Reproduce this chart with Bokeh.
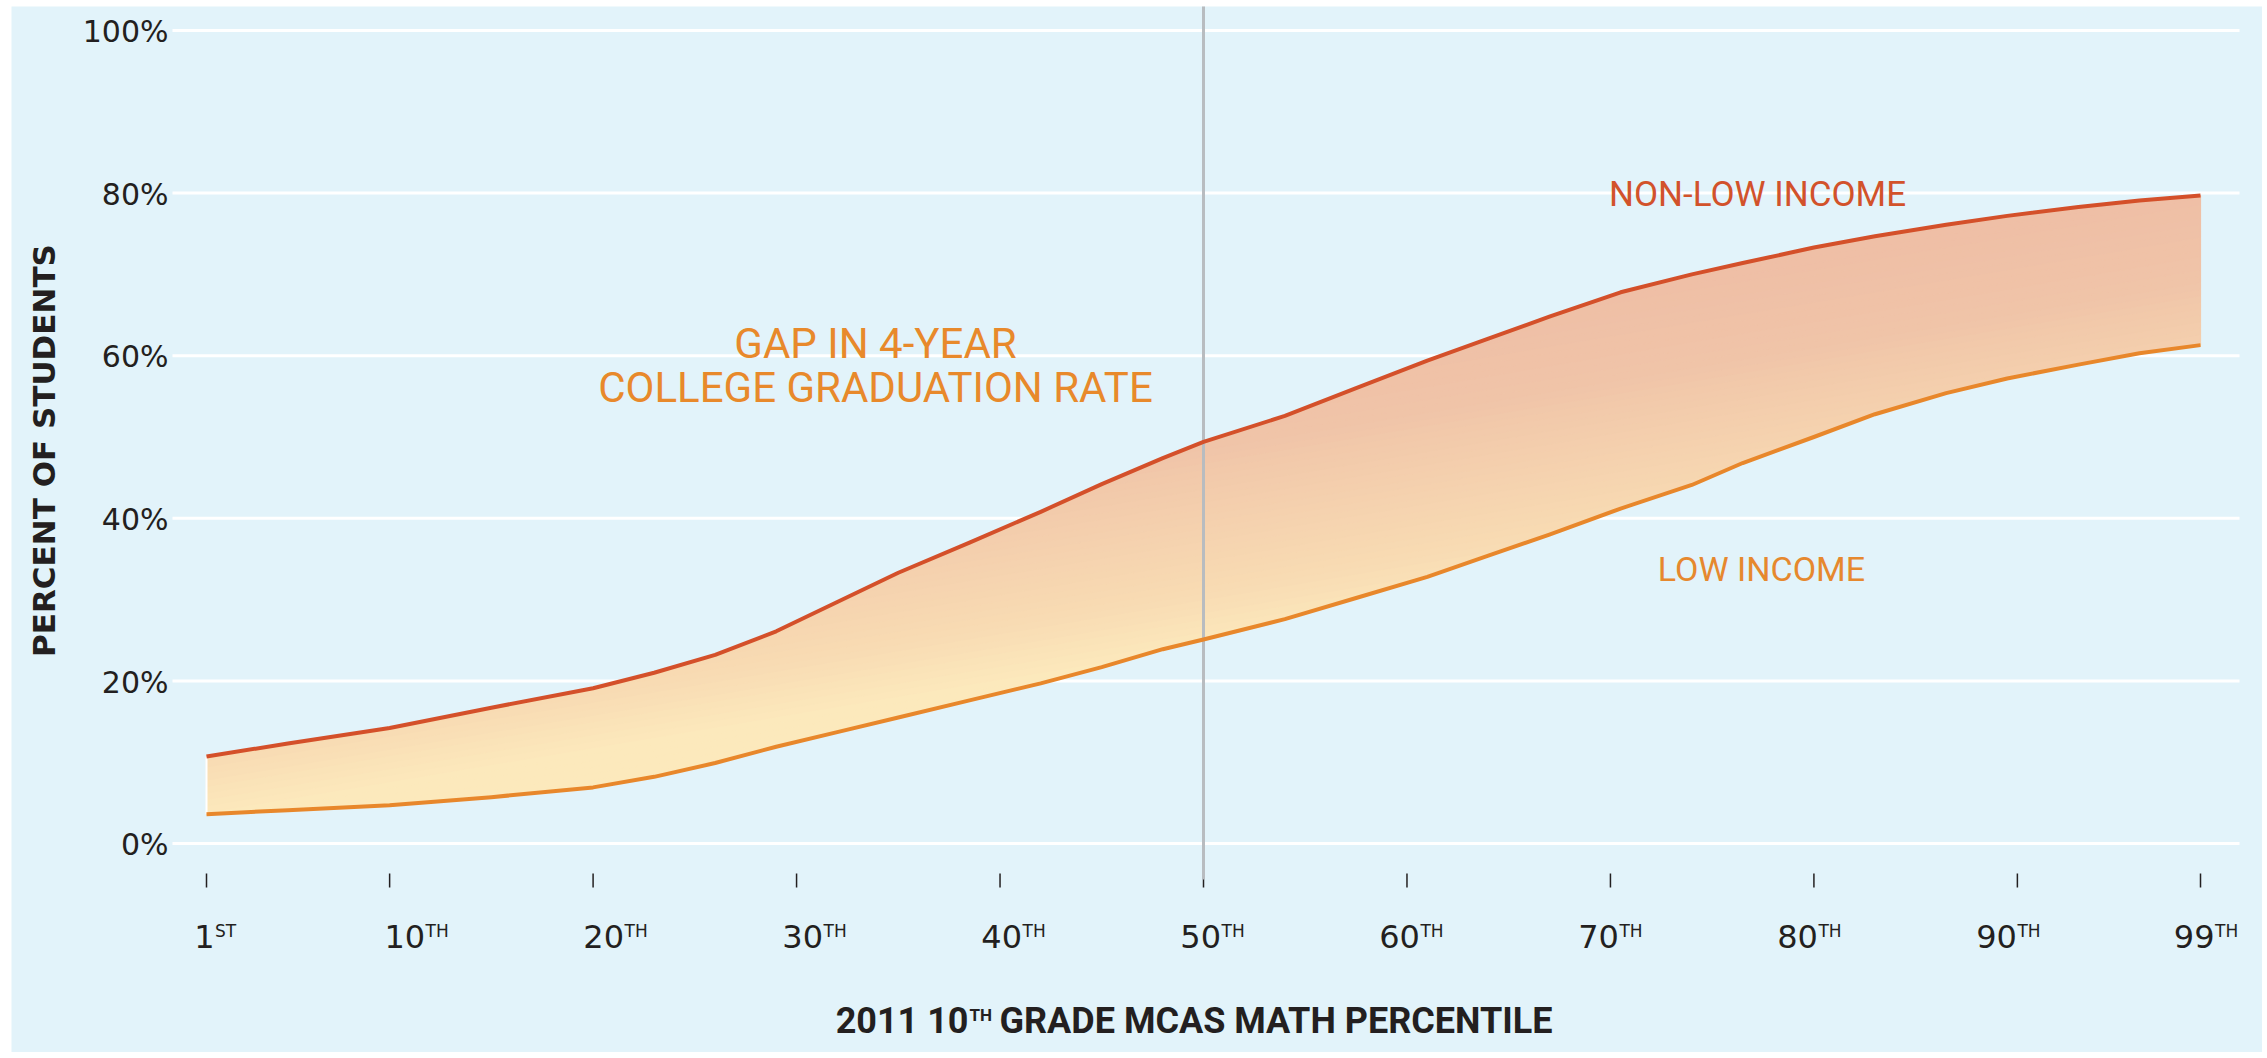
import math
from bokeh.plotting import figure
from bokeh.models import Range1d, Label
from bokeh.core.properties import value
from bokeh.embed import file_html
from bokeh.resources import INLINE

# ---------------- data ----------------
percentile = [1, 5, 10, 15, 20, 23, 26, 29, 32, 35, 38.5, 42, 45, 48, 50, 54, 57.5,
              61, 64, 67, 70.5, 74, 76.5, 80, 83, 86.5, 89.5, 93, 96, 99]
non_low_income = [10.7, 12.3, 14.2, 16.7, 19.1, 21.0, 23.2, 26.1, 29.7, 33.3, 37.0, 40.8,
                  44.2, 47.4, 49.4, 52.6, 56.0, 59.4, 62.1, 64.8, 67.8, 70.0, 71.4, 73.3,
                  74.7, 76.1, 77.2, 78.3, 79.1, 79.7]
low_income = [3.6, 4.1, 4.7, 5.7, 6.9, 8.2, 9.9, 11.9, 13.7, 15.5, 17.6, 19.7, 21.7, 23.9,
              25.1, 27.6, 30.2, 32.8, 35.4, 38.0, 41.2, 44.1, 46.8, 50.0, 52.8, 55.4, 57.2,
              58.9, 60.3, 61.3]

x_ticks = [1, 10, 20, 30, 40, 50, 60, 70, 80, 90, 99]
x_tick_nums = ["1", "10", "20", "30", "40", "50", "60", "70", "80", "90", "99"]
x_tick_sups = ["ST", "TH", "TH", "TH", "TH", "TH", "TH", "TH", "TH", "TH", "TH"]
y_ticks = [0, 20, 40, 60, 80, 100]
y_tick_labels = ["0%", "20%", "40%", "60%", "80%", "100%"]
median_mark = 50

# ---------------- styles ----------------
BG = "#E2F3FA"
DARK = "#231F20"
RED = "#D4502A"
ORANGE = "#E8872B"
NUM_FONT = "DejaVu Sans"
DIN_FONT = "Roboto"

W, H = 2262, 1052
SX, SY = 20.347, 8.13           # px per data unit
X0 = 1 - 206 / SX
X1 = X0 + W / SX
Y1 = 843 / SY
Y0 = Y1 - H / SY

p = figure(width=W, height=H, x_range=Range1d(X0, X1), y_range=Range1d(Y0, Y1),
           output_backend="svg", toolbar_location=None,
           x_axis_location=None, y_axis_location=None,
           min_border=0, min_border_left=0, min_border_right=0,
           min_border_top=0, min_border_bottom=0)
p.background_fill_color = "white"
p.border_fill_color = "white"
p.outline_line_color = None
for g in p.grid:
    g.visible = False

# page-pixel helpers for decoration / annotation placement
def px2x(px):
    return 1 + (px - 206) / SX

def px2y(py):
    return (843 - py) / SY

def base_y(py, size):
    # baseline at page pixel py for a font of the given px size
    return px2y(py - 0.33 * size)

# light blue panel
p.quad(left=[px2x(11)], right=[X1], top=[px2y(6)], bottom=[Y0],
       fill_color=BG, line_color=None)

# horizontal gridlines at the y ticks
GX0, GX1 = px2x(172), px2x(2239)
p.segment(x0=[GX0] * len(y_ticks), y0=y_ticks, x1=[GX1] * len(y_ticks), y1=y_ticks,
          line_color="white", line_width=3)

# y tick labels
p.text(x=[px2x(168)] * len(y_ticks),
       y=[t + base_y(843 + 11, 30) for t in y_ticks], text=y_tick_labels,
       text_align="right", text_baseline="alphabetic", text_font=value(NUM_FONT),
       text_font_size="30px", text_color=DARK)

# x ticks
p.segment(x0=x_ticks, y0=[px2y(873)] * len(x_ticks), x1=x_ticks,
          y1=[px2y(887)] * len(x_ticks), line_color=DARK, line_width=1.5)

# ---------------- gradient band between curves ----------------
SLOPE = 0.42
stops = [(3, (252, 233, 188)), (10, (248, 219, 179)), (20, (244, 207, 173)),
         (28, (240, 196, 168)), (38, (239, 191, 166))]

def color_at(t):
    c = stops[-1][1]
    if t <= stops[0][0]:
        c = stops[0][1]
    elif t < stops[-1][0]:
        for (ta, ca), (tb, cb) in zip(stops[:-1], stops[1:]):
            if ta <= t <= tb:
                f = (t - ta) / (tb - ta)
                c = tuple(ca[i] + f * (cb[i] - ca[i]) for i in range(3))
                break
    return "#%02x%02x%02x" % tuple(int(round(v)) for v in c)

def clip(poly, fn):
    out = []
    n = len(poly)
    for i in range(n):
        P, Q = poly[i], poly[(i + 1) % n]
        fp, fq = fn(P), fn(Q)
        if fp >= 0:
            out.append(P)
        if (fp >= 0) != (fq >= 0):
            s = fp / (fp - fq)
            out.append((P[0] + s * (Q[0] - P[0]), P[1] + s * (Q[1] - P[1])))
    return out

band = [(x, y) for x, y in zip(percentile, non_low_income)] + \
       [(x, y) for x, y in zip(percentile[::-1], low_income[::-1])]
tvals = [pt[1] - SLOPE * pt[0] for pt in band]
tmin, tmax = math.floor(min(tvals)) - 1, math.ceil(max(tvals)) + 1
xs_list, ys_list, cols = [], [], []
step = 0.8
t = tmin
while t < tmax:
    a, b = t, t + step
    poly = clip(band, lambda P, a=a: (P[1] - SLOPE * P[0]) - a)
    if poly:
        poly = clip(poly, lambda P, b=b: b - (P[1] - SLOPE * P[0]))
    if len(poly) >= 3:
        xs_list.append([q[0] for q in poly])
        ys_list.append([q[1] for q in poly])
        cols.append(color_at(t + step / 2))
    t += step

p.patches(xs_list, ys_list, fill_color=cols, line_color=cols, line_width=1.2)

# white edge at left end of band
p.segment(x0=[percentile[0]], y0=[low_income[0]], x1=[percentile[0]],
          y1=[non_low_income[0]], line_color="white", line_width=2)

# vertical marker at the 50th percentile
p.segment(x0=[median_mark], y0=[px2y(879)], x1=[median_mark], y1=[px2y(6)],
          line_color="#B8BCC0", line_width=3)

# curves
p.line(percentile, low_income, line_color=ORANGE, line_width=4, line_join="round")
p.line(percentile, non_low_income, line_color=RED, line_width=4, line_join="round")

# x tick labels with superscript ordinals
offs = []
for t_ in x_ticks:
    if t_ == 1:
        offs.append(8)
    elif t_ == 99:
        offs.append(14)
    else:
        offs.append(40 - 0.45 * t_)
p.text(x=x_ticks, y=[base_y(947, 32)] * len(x_ticks), text=x_tick_nums, x_offset=offs,
       text_align="right", text_baseline="alphabetic", text_font=value(NUM_FONT),
       text_font_size="32px", text_color=DARK)
p.text(x=x_ticks, y=[base_y(936, 17)] * len(x_ticks), text=x_tick_sups,
       x_offset=[o + 0.5 for o in offs], text_align="left", text_baseline="alphabetic",
       text_font=value(NUM_FONT), text_font_size="17px", text_color=DARK)

# ---------------- annotations ----------------
def add_label(x, y, text, font, size, color, align="left", style="normal",
              angle=0.0, baseline="alphabetic"):
    p.add_layout(Label(x=x, y=y, text=text, text_font=font, text_font_size=size,
                       text_color=color, text_align=align, text_font_style=style,
                       angle=angle, text_baseline=baseline))

# axis titles
add_label(px2x(43), px2y(450), "PERCENT OF STUDENTS", NUM_FONT, "31px", DARK,
          align="center", style="bold", angle=math.pi / 2, baseline="middle")
add_label(px2x(968), base_y(1032, 36), "2011 10", DIN_FONT, "36px", DARK, align="right",
          style="bold")
add_label(px2x(969), base_y(1020, 17), "TH", DIN_FONT, "17px", DARK, align="left",
          style="bold")
add_label(px2x(999), base_y(1032, 36), "GRADE MCAS MATH PERCENTILE", DIN_FONT, "36px",
          DARK, align="left", style="bold")

# series / gap labels
add_label(px2x(1757), base_y(206, 35), "NON-LOW INCOME", DIN_FONT, "35px", "#D2522B",
          align="center")
add_label(px2x(1761), base_y(580, 34), "LOW INCOME", DIN_FONT, "34px", "#E6882E",
          align="center")
add_label(px2x(875), base_y(357, 42), "GAP IN 4-YEAR", DIN_FONT, "42px", "#E8892B",
          align="center")
add_label(px2x(875), base_y(401, 42), "COLLEGE GRADUATION RATE", DIN_FONT, "42px",
          "#E8892B", align="center")

open("out.html", "w").write(file_html(p, INLINE))
